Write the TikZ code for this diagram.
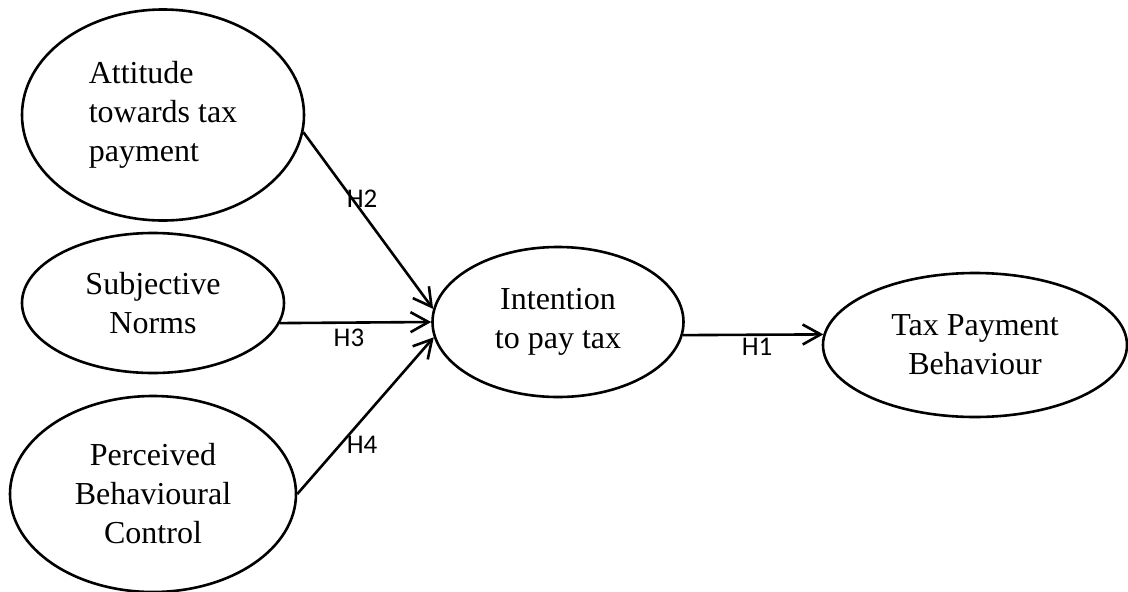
\documentclass[tikz,border=0pt]{standalone}
\usepackage{fontspec}
\setmainfont{Liberation Serif}
\newfontfamily\hfont{Carlito}
\usepackage{tikz}
\usetikzlibrary{shapes,arrows.meta}

\begin{document}
\begin{tikzpicture}[x=1pt,y=-1pt,
        construct/.style={draw, ellipse, line width=2.6pt, inner sep=0pt,
          font=\fontsize{32}{39}\selectfont},
        path/.style={line width=2.6pt, -{Straight Barb[length=18pt,width=20pt]}},
        hyp/.style={font=\hfont\fontsize{27}{30}\selectfont}]
        \useasboundingbox (0,0) rectangle (1128,592);
        % Draw the constructs
        \node[construct, minimum width=282pt, minimum height=211pt, align=left] (att) at (163,115)
          {Attitude\\towards tax\\payment};
        \node[construct, minimum width=262pt, minimum height=140pt, align=center] (sn) at (153,303)
          {Subjective\\Norms};
        \node[construct, minimum width=286pt, minimum height=196pt, align=center] (pbc) at (153,494)
          {Perceived\\Behavioural\\Control};
        \node[construct, minimum width=251pt, minimum height=150pt, align=center] (int) at (558,322)
          {Intention\\to pay tax};
        \node[construct, minimum width=304pt, minimum height=144pt, align=center] (tpb) at (975,345)
          {Tax Payment\\Behaviour};
        % Draw the hypothesised paths
        \draw[path] (att.-7) -- (int.174);
        \draw[path] (sn.-9) -- (int.180);
        \draw[path] (pbc.0) -- (int.187);
        \draw[path] (int.-6) -- (tpb.176);
        % Label the hypotheses
        \node[hyp] (h2) at (362,199) {H2};
        \node[hyp] (h3) at (349,338) {H3};
        \node[hyp] (h4) at (362,445) {H4};
        \node[hyp] (h1) at (757,347) {H1};
\end{tikzpicture}
\end{document}
